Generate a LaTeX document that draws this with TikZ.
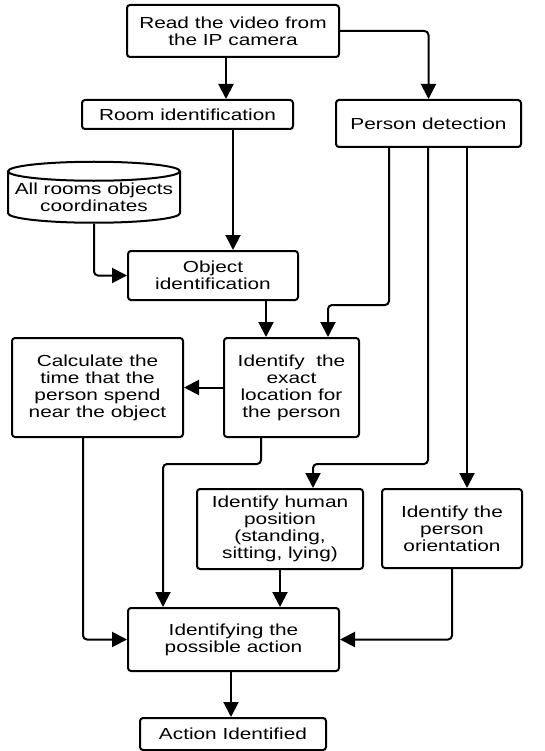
\documentclass[tikz,border=0pt]{standalone}
\usepackage{fontspec}
\setmainfont{Liberation Sans}[FakeStretch=1.3]
\usetikzlibrary{shapes.geometric,arrows.meta}
\tikzset{
  stepbox/.style={draw, rectangle, rounded corners=3pt, line width=2pt,
    align=center, inner sep=0pt, font=\fontsize{16}{17}\selectfont},
  store/.style={draw, cylinder, shape border rotate=90, aspect=0.12,
    line width=2pt, align=center, inner sep=0pt,
    font=\fontsize{16}{17}\selectfont},
  flow/.style={line width=2pt, rounded corners=4pt,
    -{Triangle[length=15pt,width=15pt]}}
}
\begin{document}
\begin{tikzpicture}[x=1pt,y=-1pt]
      \useasboundingbox (0,0) rectangle (545,751);
      \draw
        (233,31) node[stepbox, minimum width=212pt, minimum height=52pt] (read){Read the video from\\the IP camera}
        (187.5,114.5) node[stepbox, minimum width=211pt, minimum height=29pt] (room){Room identification}
        (428.5,123.5) node[stepbox, minimum width=185pt, minimum height=47pt] (person){Person detection}
        (94,197.5) node[store, minimum width=172pt, minimum height=61pt] (db){All rooms objects\\coordinates}
        (213,275.5) node[stepbox, minimum width=170pt, minimum height=49pt] (obj){Object\\identification}
        (97.5,387.5) node[stepbox, minimum width=171pt, minimum height=99pt] (calc){Calculate the\\time that the\\person spend\\near the object}
        (291.5,387.5) node[stepbox, minimum width=135pt, minimum height=99pt] (loc){Identify\ \ the\\exact\\location for\\the person}
        (280,529) node[stepbox, minimum width=166pt, minimum height=80pt] (human){Identify human\\position\\(standing,\\sitting, lying)}
        (452,528.5) node[stepbox, minimum width=140pt, minimum height=79pt] (orient){Identify the\\person\\orientation}
        (233.5,639.5) node[stepbox, minimum width=211pt, minimum height=63pt] (action){Identifying the\\possible action}
        (233,734) node[stepbox, minimum width=186pt, minimum height=32pt] (final){Action Identified};
      % bend points of the connectors
      \coordinate (p1) at (389,305);
      \coordinate (p2) at (328,305);
      \coordinate (p3) at (428,464);
      \coordinate (p4) at (313,464);
      \coordinate (p5) at (261,464);
      \coordinate (p6) at (163,464);
      \begin{scope}[flow]
        \draw (read.south -| 226,0) to (room.north -| 226,0);
        \draw (read.east) -| (person.north);
        \draw (room.south -| 233,0) to (obj.north -| 233,0);
        \draw (db.south) |- (obj.west);
        \draw (person.south -| p1) -- (p1) -- (p2) -- (loc.north -| p2);
        \draw (obj.south -| 266,0) to (loc.north -| 266,0);
        \draw (loc.west) to (calc.east);
        \draw (person.south -| p3) -- (p3) -- (p4) -- (human.north -| p4);
        \draw (person.south -| 467,0) to (orient.north -| 467,0);
        \draw (loc.south -| p5) -- (p5) -- (p6) -- (action.north -| p6);
        \draw (calc.south -| 83,0) |- (action.west);
        \draw (human.south) to (action.north -| human.south);
        \draw (orient.south) |- (action.east);
        \draw (action.south -| 231,0) to (final.north -| 231,0);
      \end{scope}
    \end{tikzpicture}
\end{document}
